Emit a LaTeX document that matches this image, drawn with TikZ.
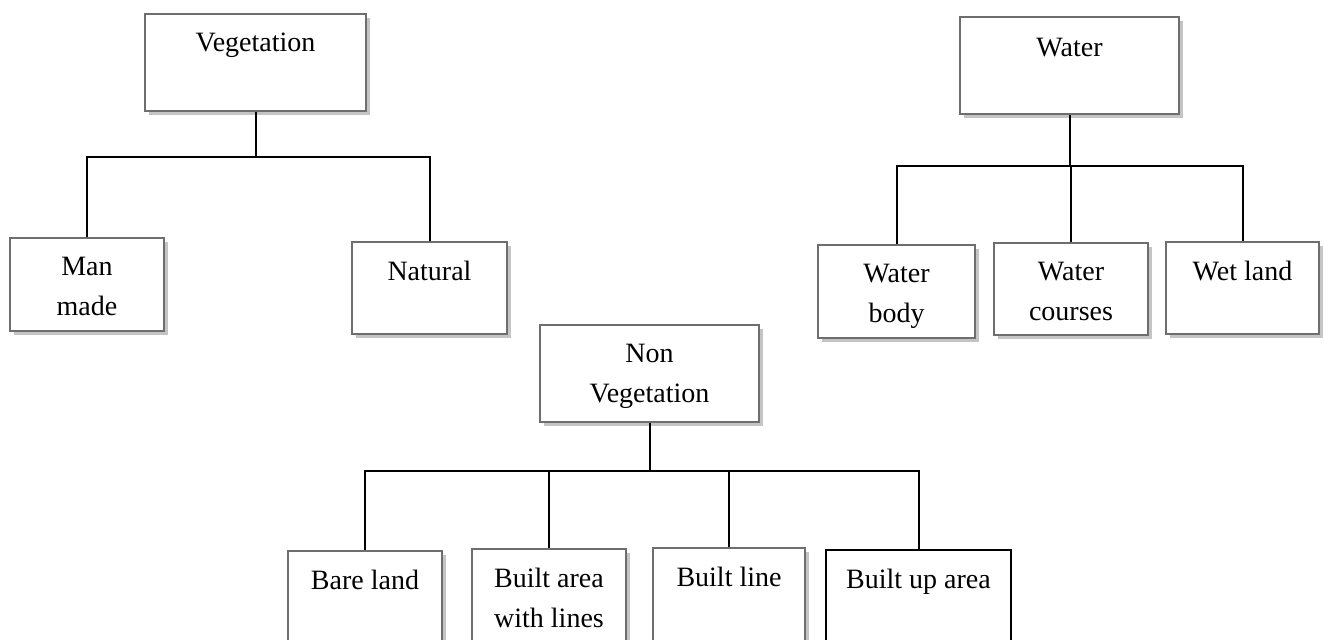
\documentclass[tikz,border=0pt]{standalone}
\usepackage{fontspec}
\setmainfont{Liberation Serif}
\usetikzlibrary{fit,shadows}

\definecolor{boxgray}{HTML}{6E6E6E}
\definecolor{shadegray}{HTML}{C4C4C4}

\tikzset{
  catbox/.style={draw=boxgray, line width=1.3pt, fill=white, inner sep=0pt,
    drop shadow={shadow xshift=2pt, shadow yshift=-2pt, fill=shadegray, opacity=1}},
  plainbox/.style={draw=black, line width=1pt, fill=white, inner sep=0pt},
  cattxt/.style={anchor=north, align=center, inner sep=0pt,
    font=\fontsize{14}{20}\selectfont},
  link/.style={draw=black, line width=1pt},
}

\begin{document}
\begin{tikzpicture}[x=0.5pt, y=-0.5pt]
  \useasboundingbox (0,0) rectangle (1325,640);
  \clip (0,0) rectangle (1325,640);

  % Vegetation
  \node[catbox, fit={(145,14) (366,111)}] (veg) {};
  \node[catbox, fit={(10,238) (164,331)}] (manmade) {};
  \node[catbox, fit={(352,242) (507,334)}] (natural) {};
  \node[cattxt] (vegtxt) at ([yshift=-10pt]veg.north) {Vegetation};
  \node[cattxt] (manmadetxt) at ([yshift=-10pt]manmade.north) {Man\\made};
  \node[cattxt] (naturaltxt) at ([yshift=-10pt]natural.north) {Natural};

  % Water
  \node[catbox, fit={(960,17) (1179,114)}] (water) {};
  \node[catbox, fit={(818,245) (975,338)}] (wbody) {};
  \node[catbox, fit={(994,243) (1148,335)}] (wcourses) {};
  \node[catbox, fit={(1166,242) (1319,334)}] (wetland) {};
  \node[cattxt] (watertxt) at ([yshift=-11pt]water.north) {Water};
  \node[cattxt] (wbodytxt) at ([yshift=-10pt]wbody.north) {Water\\body};
  \node[cattxt] (wcoursestxt) at ([yshift=-10pt]wcourses.north) {Water\\courses};
  \node[cattxt] (wetlandtxt) at ([yshift=-10pt]wetland.north) {Wet land};

  % Non Vegetation
  \node[catbox, fit={(540,325) (759,422)}] (nonveg) {};
  \node[catbox, fit={(288,551) (442,648)}] (bare) {};
  \node[catbox, fit={(472,549) (626,648)}] (bareline) {};
  \node[catbox, fit={(653,548) (805,648)}] (builtline) {};
  \node[plainbox, fit={(826,550) (1011,648)}] (builtup) {};
  \node[cattxt] (nonvegtxt) at ([yshift=-10pt]nonveg.north) {Non\\Vegetation};
  \node[cattxt] (baretxt) at ([yshift=-10pt]bare.north) {Bare land};
  \node[cattxt] (barelinetxt) at ([yshift=-10pt]bareline.north) {Built area\\with lines};
  \node[cattxt] (builtlinetxt) at ([yshift=-10pt]builtline.north) {Built line};
  \node[cattxt] (builtuptxt) at ([yshift=-10pt]builtup.north) {Built up area};

  % junctions
  \coordinate (vegj) at (veg.south |- 0,157);
  \coordinate (waterj) at (water.south |- 0,166);
  \coordinate (nonvegj) at (nonveg.south |- 0,471);

  \draw[link] (veg.south) -- (vegj);
  \draw[link] (vegj) -| (manmade.north);
  \draw[link] (vegj) -| (natural.north);

  \draw[link] (water.south) -- (waterj);
  \draw[link] (waterj) -| (wbody.north);
  \draw[link] (waterj) -| (wcourses.north);
  \draw[link] (waterj) -| (wetland.north);

  \draw[link] (nonveg.south) -- (nonvegj);
  \draw[link] (nonvegj) -| (bare.north);
  \draw[link] (nonvegj) -| (bareline.north);
  \draw[link] (nonvegj) -| (builtline.north);
  \draw[link] (nonvegj) -| (builtup.north);
\end{tikzpicture}
\end{document}
